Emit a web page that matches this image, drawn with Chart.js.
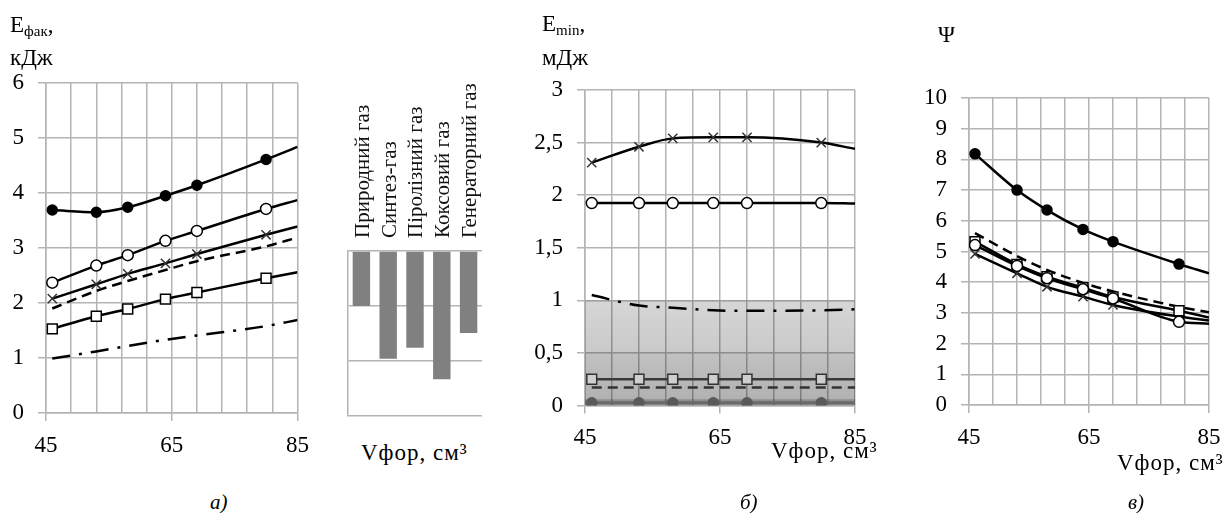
<!DOCTYPE html>
<html>
<head>
<meta charset="utf-8">
<script src="https://cdn.jsdelivr.net/npm/chart.js@4"></script>
<style>
body { margin: 0; background: #fff; }
#wrap { position: relative; width: 1232px; height: 513px; overflow: hidden; font-family: "Liberation Serif", "Times New Roman", serif; color: #000; }
canvas { position: absolute; }
.t { position: absolute; font-size: 23px; line-height: 1; white-space: nowrap; }
.t sub { font-size: 15px; vertical-align: 0; position: relative; top: 4px; }
.xt { letter-spacing: 1px; }
.cap { font-style: italic; font-size: 21px; }
</style>
</head>
<body>
<div id="wrap">
  <canvas id="chartA" width="320" height="470" style="left:0;top:0"></canvas>
  <canvas id="chartBars" width="170" height="370" style="left:330px;top:60px"></canvas>
  <canvas id="chartB" width="360" height="470" style="left:520px;top:0"></canvas>
  <canvas id="chartC" width="332" height="470" style="left:900px;top:0"></canvas>

  <div class="t" style="left:10px;top:13px">E<sub>фак</sub>,</div>
  <div class="t" style="left:10px;top:46px">кДж</div>
  <div class="t" style="left:542px;top:12px">E<sub>min</sub>,</div>
  <div class="t" style="left:542px;top:46px">мДж</div>
  <div class="t" style="left:938px;top:23px">Ψ</div>

  <div class="t xt" style="left:361px;top:441px">Vфор, см³</div>
  <div class="t xt" style="left:771px;top:439px">Vфор, см³</div>
  <div class="t xt" style="left:1117px;top:451px">Vфор, см³</div>

  <div class="t cap" style="left:210px;top:492px">а)</div>
  <div class="t cap" style="left:740px;top:492px">б)</div>
  <div class="t cap" style="left:1128px;top:492px">в)</div>
</div>

<script>
var vfor = [46, 53, 58, 64, 69, 80, 85];
var xLabels = [45, 65, 85];

// а) Eфак, кДж
var aFilled = [3.69, 3.65, 3.74, 3.95, 4.14, 4.61, 4.84];
var aOpen = [2.37, 2.68, 2.87, 3.13, 3.31, 3.71, 3.87];
var aCross = [2.08, 2.34, 2.53, 2.72, 2.89, 3.24, 3.39];
var aDashed = [1.90, 2.22, 2.40, 2.60, 2.76, 3.03, 3.19];
var aSquare = [1.53, 1.76, 1.89, 2.07, 2.19, 2.45, 2.56];
var aDashDot = [0.99, 1.12, 1.22, 1.33, 1.41, 1.58, 1.69];

// стовпчики
var gases = ["Природний газ", "Синтез-газ", "Піролізний газ", "Коксовий газ", "Генераторний газ"];
var gasBars = [-1.0, -1.96, -1.76, -2.33, -1.49];

// б) Emin, мДж
var bCross = [2.31, 2.46, 2.54, 2.55, 2.55, 2.50, 2.44];
var bOpen = [1.925, 1.925, 1.925, 1.925, 1.925, 1.925, 1.92];
var bDashDot = [1.05, 0.95, 0.93, 0.905, 0.90, 0.905, 0.915];
var bSquare = [0.25, 0.25, 0.25, 0.25, 0.25, 0.25, 0.25];
var bDashed = [0.17, 0.17, 0.17, 0.17, 0.17, 0.17, 0.17];
var bFilled = [0.025, 0.025, 0.025, 0.025, 0.025, 0.025, 0.025];
var bBands = [1, 0.5, 0.06];

// в) Ψ
var cFilled = [8.18, 7.0, 6.35, 5.72, 5.32, 4.59, 4.29];
var cDashed = [5.6, 4.85, 4.40, 3.98, 3.70, 3.20, 3.02];
var cSquare = [5.32, 4.58, 4.18, 3.82, 3.52, 3.07, 2.85];
var cOpen = [5.21, 4.53, 4.13, 3.77, 3.47, 2.71, 2.65];
var cCross = [4.92, 4.29, 3.85, 3.53, 3.26, 2.88, 2.75];

var serif = "'Liberation Serif', 'Times New Roman', serif";
var gridColor = '#b4b4b4';

function pts(ys) {
	return vfor.map(function (x, i) { return { x: x, y: ys[i] }; });
}

// last point is only the end of the curve, no marker
function marks(r) {
	return vfor.map(function (x, i) { return i < vfor.length - 1 ? r : 0; });
}

function series(ys, kind, extra) {
	var d = {
		data: pts(ys),
		borderColor: '#000',
		borderWidth: 2.5,
		cubicInterpolationMode: 'monotone',
		pointRadius: 0,
		pointBorderColor: '#000',
		pointBorderWidth: 1.5
	};
	if (kind == 'filled') { d.pointRadius = marks(5); d.pointBackgroundColor = '#000'; }
	if (kind == 'open') { d.pointRadius = marks(5.5); d.pointBackgroundColor = '#fff'; }
	if (kind == 'square') { d.pointRadius = marks(7); d.pointStyle = 'rect'; d.pointBackgroundColor = '#fff'; }
	if (kind == 'cross') { d.pointRadius = marks(6.5); d.pointStyle = 'crossRot'; d.pointBorderColor = '#333'; }
	if (kind == 'dashed') { d.borderDash = [10, 6]; }
	if (kind == 'dashdot') { d.borderDash = [18, 9, 3, 9]; }
	for (var k in extra) d[k] = extra[k];
	return d;
}

function xScale(height) {
	return {
		type: 'linear', min: 45, max: 85,
		grid: {
			color: gridColor, lineWidth: 1.5, tickLength: 8,
			tickColor: function (c) { return xLabels.indexOf(c.tick.value) >= 0 ? gridColor : 'rgba(0,0,0,0)'; }
		},
		border: { color: gridColor, width: 1.5 },
		ticks: {
			stepSize: 4, autoSkip: false, maxRotation: 0, padding: 11,
			color: '#000', font: { family: serif, size: 23 },
			callback: function (v) { return xLabels.indexOf(v) >= 0 ? v : ''; }
		},
		afterFit: function (s) { s.height = height; }
	};
}

function yScale(max, step, width, comma) {
	return {
		min: 0, max: max,
		grid: { color: gridColor, lineWidth: 1.5, tickLength: 8 },
		border: { color: gridColor, width: 1.5 },
		ticks: {
			stepSize: step, padding: 14, color: '#000', font: { family: serif, size: 23 },
			callback: function (v) { return comma ? String(v).replace('.', ',') : v; }
		},
		afterFit: function (s) { s.width = width; }
	};
}

function baseOptions(pad, xs, ys) {
	return {
		responsive: false,
		animation: false,
		layout: { padding: pad },
		plugins: { legend: { display: false }, tooltip: { enabled: false } },
		scales: { x: xs, y: ys }
	};
}

// gray gradient bands on б)
function band(alphaTop, alphaBottom) {
	return function (context) {
		var chart = context.chart;
		var area = chart.chartArea;
		if (!area) return 'rgba(0,0,0,' + alphaTop + ')';
		var top = chart.scales.y.getPixelForValue(context.dataset.data[0].y);
		var g = chart.ctx.createLinearGradient(0, top, 0, area.bottom);
		g.addColorStop(0, 'rgba(0,0,0,' + alphaTop + ')');
		g.addColorStop(1, 'rgba(0,0,0,' + alphaBottom + ')');
		return g;
	};
}

function bandSet(v, a1, a2) {
	return {
		data: [{ x: 45, y: v }, { x: 85, y: v }],
		fill: 'origin', borderWidth: 0, pointRadius: 0,
		backgroundColor: band(a1, a2), order: 10
	};
}

// а)
new Chart(document.getElementById('chartA'), {
	type: 'line',
	data: {
		datasets: [
			series(aFilled, 'filled'),
			series(aOpen, 'open'),
			series(aCross, 'cross'),
			series(aDashed, 'dashed'),
			series(aSquare, 'square'),
			series(aDashDot, 'dashdot')
		]
	},
	options: baseOptions({ top: 83, right: 17 }, xScale(57), yScale(6, 1, 46, false))
});

// стовпчики під а)
new Chart(document.getElementById('chartBars'), {
	type: 'bar',
	data: {
		labels: gases,
		datasets: [{ data: gasBars, backgroundColor: '#808080', barPercentage: 0.65, categoryPercentage: 1 }]
	},
	options: {
		responsive: false,
		animation: false,
		layout: { padding: { right: 18, bottom: 14 } },
		plugins: { legend: { display: false }, tooltip: { enabled: false } },
		scales: {
			x: {
				position: 'top',
				grid: { display: false },
				border: { display: false },
				ticks: { minRotation: 90, maxRotation: 90, autoSkip: false, padding: 5, labelOffset: 27, color: '#111', font: { family: serif, size: 21 } },
				afterFit: function (s) { s.height = 191; s.paddingLeft = 0; s.paddingRight = 0; }
			},
			y: {
				min: -3, max: 0,
				ticks: { stepSize: 1, color: 'rgba(0,0,0,0)', font: { size: 8 } },
				grid: { color: gridColor, lineWidth: 1.5, drawTicks: false },
				border: { display: true, color: gridColor, width: 1.5 },
				afterFit: function (s) { s.width = 18; }
			}
		}
	}
});

// б)
new Chart(document.getElementById('chartB'), {
	type: 'line',
	data: {
		datasets: [
			series(bCross, 'cross'),
			series(bOpen, 'open'),
			series(bDashDot, 'dashdot'),
			series(bSquare, 'square', { borderColor: '#3a3a3a', pointBackgroundColor: '#cfcfcf', pointBorderColor: '#333' }),
			series(bDashed, 'dashed', { borderColor: '#333' }),
			series(bFilled, 'filled', { borderColor: '#6a6a6a', borderWidth: 3, pointBackgroundColor: '#5a5a5a', pointBorderColor: '#5a5a5a' }),
			bandSet(bBands[0], 0.16, 0.26),
			bandSet(bBands[1], 0.04, 0.07),
			bandSet(bBands[2], 0.2, 0.2)
		]
	},
	options: baseOptions({ top: 90, right: 25 }, xScale(64.5), yScale(3, 0.5, 65, true))
});

// в)
new Chart(document.getElementById('chartC'), {
	type: 'line',
	data: {
		datasets: [
			series(cFilled, 'filled'),
			series(cOpen, 'open'),
			series(cSquare, 'square'),
			series(cCross, 'cross'),
			series(cDashed, 'dashed')
		]
	},
	options: baseOptions({ top: 98, right: 23 }, xScale(65), yScale(10, 1, 69, false))
});
</script>
</body>
</html>
